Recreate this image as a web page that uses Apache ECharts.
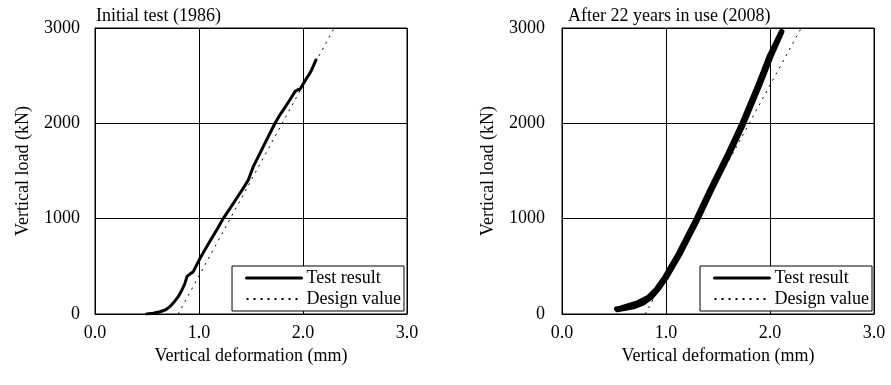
<!DOCTYPE html>
<html>
<head>
<meta charset="utf-8">
<script src="https://cdn.jsdelivr.net/npm/echarts@6/dist/echarts.min.js"></script>
<style>
  html, body { margin: 0; padding: 0; background: #fff; }
  #chart { width: 891px; height: 385px; }
</style>
</head>
<body>
<div id="chart"></div>
<script>
// 数据
const titles = ['Initial test (1986)', 'After 22 years in use (2008)']
const xTicks = [0, 1, 2, 3]
const yTicks = [0, 1000, 2000, 3000]

// 1986 试验曲线 [变形 mm, 荷载 kN]
const test1986 = [
  [0.497, 0], [0.56, 8], [0.625, 24], [0.68, 45], [0.72, 77], [0.76, 125], [0.80, 182],
  [0.835, 250], [0.865, 322], [0.885, 395], [0.897, 409], [0.92, 425], [0.945, 444],
  [0.975, 510], [1.01, 584], [1.06, 680], [1.122, 794], [1.18, 900], [1.234, 1004],
  [1.30, 1110], [1.362, 1214], [1.42, 1310], [1.474, 1406], [1.522, 1546],
  [1.57, 1650], [1.618, 1756], [1.675, 1880], [1.731, 2001], [1.77, 2075],
  [1.811, 2141], [1.87, 2240], [1.923, 2333], [1.95, 2352], [1.971, 2358],
  [2.0, 2410], [2.035, 2473], [2.06, 2515], [2.083, 2560], [2.105, 2615], [2.125, 2665]
]

// 2008 试验曲线：加载段（右）与卸载段（左）
const load2008 = [
  [0.53, 42], [0.60, 55], [0.70, 76], [0.78, 112], [0.855, 168], [0.93, 262],
  [1.012, 391], [1.142, 637], [1.312, 1000], [1.442, 1300], [1.602, 1651],
  [1.752, 2001], [1.912, 2421], [2.012, 2700], [2.118, 2962]
]
const unload2008 = [
  [2.108, 2966], [1.988, 2700], [1.888, 2421], [1.728, 2001], [1.578, 1651],
  [1.418, 1300], [1.288, 1000], [1.118, 637], [0.988, 391], [0.905, 262],
  [0.825, 175], [0.73, 122], [0.63, 88], [0.56, 64], [0.52, 55]
]

// 设计值
const design = [[0.8, 0], [2.3, 3000]]

const font = '"Liberation Serif", "Times New Roman", serif'
const black = '#000'
const fs = 18

const chart = echarts.init(document.getElementById('chart'))

function makeXAxis(i) {
  return {
    gridIndex: i,
    type: 'value',
    min: xTicks[0],
    max: xTicks[xTicks.length - 1],
    interval: 1,
    name: 'Vertical deformation (mm)',
    nameLocation: 'middle',
    nameGap: 30,
    nameTextStyle: { color: black, fontFamily: font, fontSize: fs },
    axisLine: { show: true, lineStyle: { color: black, width: 1 } },
    axisTick: { show: false },
    axisLabel: {
      color: black, fontFamily: font, fontSize: fs, margin: 10,
      formatter: v => v.toFixed(1)
    },
    splitLine: { show: true, lineStyle: { color: black, width: 1 } }
  }
}

function makeYAxis(i, gap, margin) {
  return {
    gridIndex: i,
    type: 'value',
    min: yTicks[0],
    max: yTicks[yTicks.length - 1],
    interval: 1000,
    name: 'Vertical load (kN)',
    nameLocation: 'middle',
    nameGap: gap,
    nameTextStyle: { color: black, fontFamily: font, fontSize: fs },
    axisLine: { show: true, lineStyle: { color: black, width: 1 } },
    axisTick: { show: false },
    axisLabel: {
      color: black, fontFamily: font, fontSize: fs, margin: margin,
      formatter: v => String(v)
    },
    splitLine: { show: true, lineStyle: { color: black, width: 1 } }
  }
}

function makeLegend(right) {
  return {
    orient: 'vertical',
    right: right,
    bottom: 74,
    itemWidth: 55,
    itemHeight: 14,
    itemGap: 3,
    padding: [3, 3, 3, 13],
    backgroundColor: '#fff',
    borderColor: black,
    borderWidth: 1,
    borderRadius: 0,
    itemStyle: { opacity: 0 },
    textStyle: { color: black, fontFamily: font, fontSize: fs },
    data: [
      { name: 'Test result', lineStyle: { width: 3 } },
      { name: 'Design value' }
    ]
  }
}

function testLine(data, axis, width) {
  return {
    name: 'Test result', type: 'line', xAxisIndex: axis, yAxisIndex: axis,
    data: data, symbol: 'none',
    lineStyle: { color: black, width: width, cap: 'round', join: 'round' },
    itemStyle: { color: black }, z: 3
  }
}

function designLine(axis) {
  return {
    name: 'Design value', type: 'line', xAxisIndex: axis, yAxisIndex: axis,
    data: design, symbol: 'none',
    lineStyle: { color: black, width: 1, type: [2, 5] },
    itemStyle: { color: black }, z: 2
  }
}

const option = {
  animation: false,
  backgroundColor: '#fff',
  title: [
    { text: titles[0], left: 91, top: 2, textStyle: { color: black, fontFamily: font, fontSize: fs, fontWeight: 'normal' } },
    { text: titles[1], left: 563, top: 2, textStyle: { color: black, fontFamily: font, fontSize: fs, fontWeight: 'normal' } }
  ],
  grid: [
    { left: 95, right: 484, top: 28, bottom: 71, show: true, borderColor: black, borderWidth: 1 },
    { left: 562, right: 17, top: 28, bottom: 71, show: true, borderColor: black, borderWidth: 1 }
  ],
  xAxis: [makeXAxis(0), makeXAxis(1)],
  yAxis: [makeYAxis(0, 63, 15), makeYAxis(1, 65, 17)],
  legend: [makeLegend(487), makeLegend(19)],
  series: [
    testLine(test1986, 0, 3),
    designLine(0),
    testLine(load2008, 1, 4.5),
    testLine(unload2008, 1, 4.5),
    designLine(1)
  ]
}

chart.setOption(option)
</script>
</body>
</html>
